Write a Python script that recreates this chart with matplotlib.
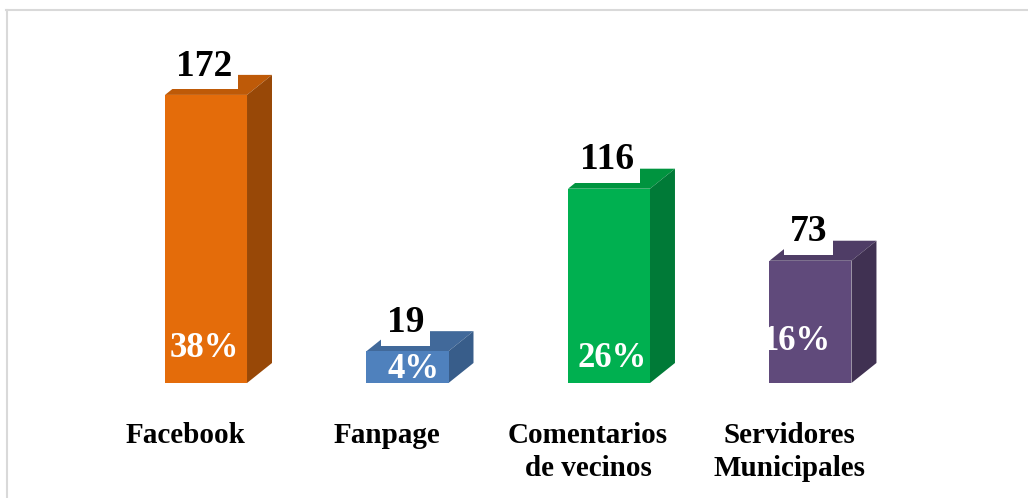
import matplotlib
matplotlib.use("Agg")
from matplotlib import pyplot as plt
from matplotlib.patches import Polygon
from matplotlib.lines import Line2D

categories = ["Facebook", "Fanpage", "Comentarios\nde vecinos", "Servidores\nMunicipales"]
counts = [172, 19, 116, 73]
percents = ["38%", "4%", "26%", "16%"]

front_colors = ["#E46C0A", "#4F81BD", "#00B050", "#604A7B"]
top_colors = ["#BE5A08", "#41699A", "#00943F", "#4F3D66"]
side_colors = ["#984807", "#385D8A", "#007A37", "#403152"]

# layout of the percent labels inside the bars (x shift, baseline height)
pct_dx = [-0.01, 0.03, 0.015, -0.075]
pct_base = [15.5, 3.0, 9.6, 19.7]

bar_w = 0.407
depth_x = 0.124
depth_y = 11.95

plt.rcParams["font.family"] = ["Liberation Serif", "DejaVu Serif"]
plt.rcParams["font.weight"] = "bold"

fig = plt.figure(figsize=(10.28, 4.98), dpi=100)
ax = fig.add_axes([0.1024, 0.2309, 0.784, 0.6727])
ax.set_xlim(-0.5, 3.5)
ax.set_ylim(0, 200)
ax.axis("off")

x = list(range(len(categories)))
ax.bar(x, counts, width=bar_w, color=front_colors, zorder=3)

for i, v in enumerate(counts):
    l = i - bar_w / 2
    r = i + bar_w / 2
    # top face
    ax.add_patch(Polygon([(l, v), (r, v), (r + depth_x, v + depth_y), (l + depth_x, v + depth_y)],
                         closed=True, facecolor=top_colors[i], edgecolor="none", zorder=2))
    # side face
    ax.add_patch(Polygon([(r, 0), (r + depth_x, depth_y), (r + depth_x, v + depth_y), (r, v)],
                         closed=True, facecolor=side_colors[i], edgecolor="none", zorder=2))
    # count label
    ax.text(i - 0.01, v + 11.5, str(v), ha="center", va="baseline", fontsize=27,
            fontweight="bold", color="black", zorder=5, clip_on=False,
            bbox=dict(facecolor="white", edgecolor="none", pad=4))
    # percent label
    ax.text(i + pct_dx[i], pct_base[i], percents[i], ha="center", va="baseline",
            fontsize=25, fontweight="bold", color="white", zorder=6, clip_on=False)
    # category label
    ax.text(i - 0.104, -23.5, categories[i], ha="center", va="top", fontsize=21,
            fontweight="bold", color="black", linespacing=1.26, clip_on=False)

# thin gray frame (top and left)
fig.add_artist(Line2D([6 / 1028, 1], [1 - 10.5 / 498, 1 - 10.5 / 498],
                      transform=fig.transFigure, color="#D9D9D9", linewidth=1.5))
fig.add_artist(Line2D([6.5 / 1028, 6.5 / 1028], [0, 1 - 10 / 498],
                      transform=fig.transFigure, color="#D9D9D9", linewidth=1.5))

fig.savefig("out.png", dpi=100, facecolor="white")
